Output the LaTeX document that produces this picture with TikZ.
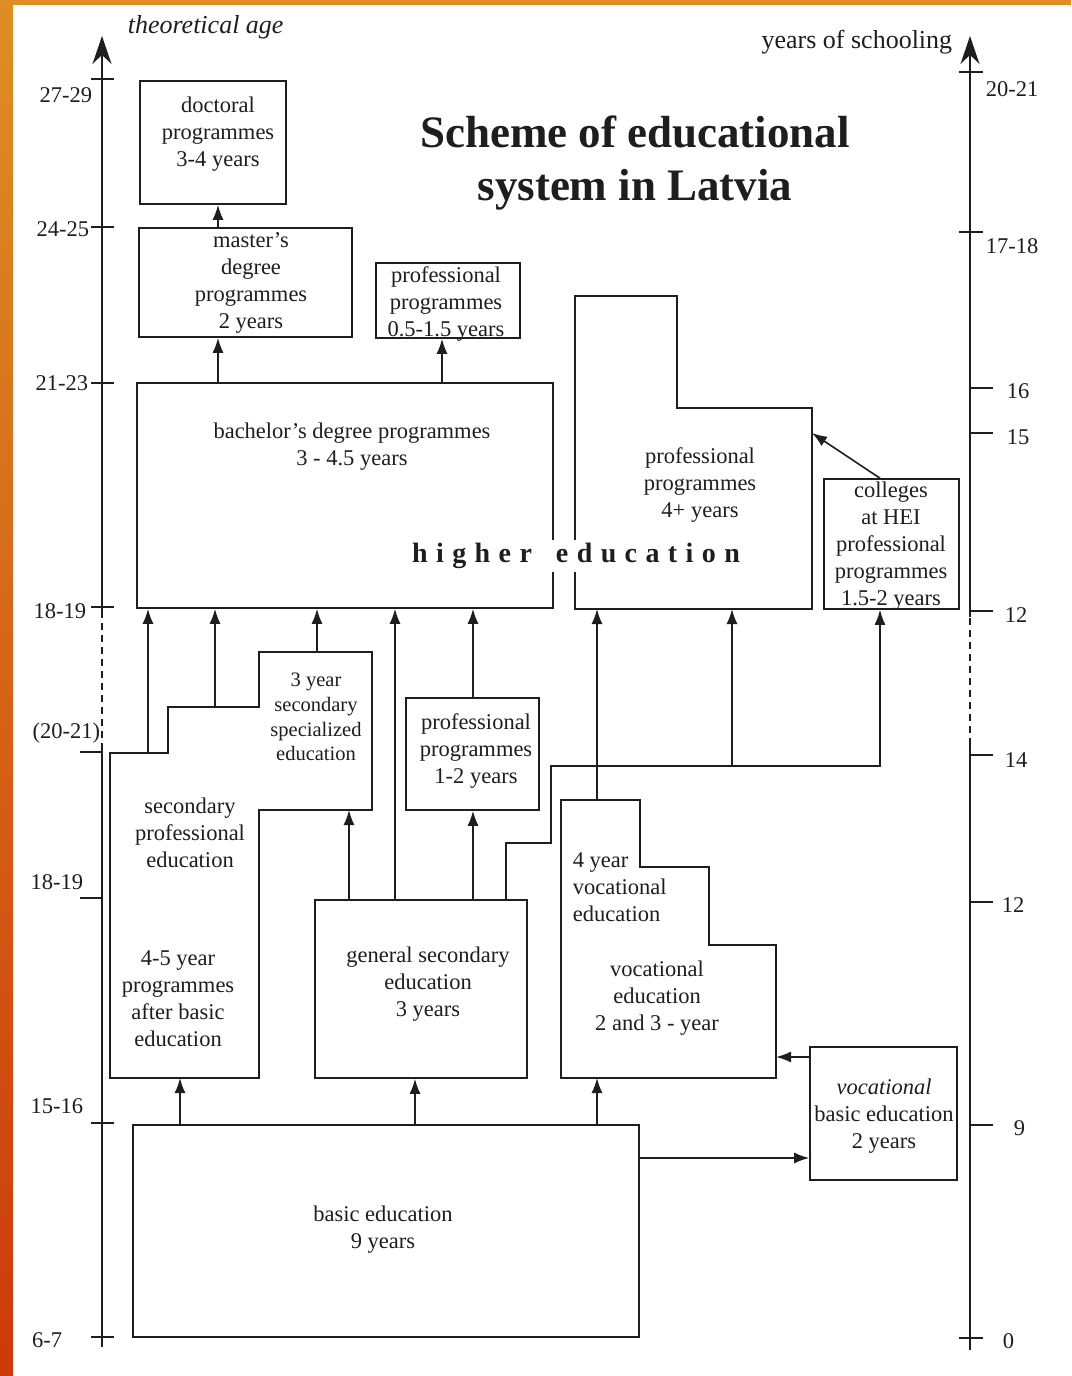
\documentclass[tikz,border=0pt]{standalone}
\usepackage{fontspec}
\setmainfont{Liberation Serif}
\usetikzlibrary{arrows.meta,calc,positioning}

\definecolor{ink}{RGB}{30,30,30}
\definecolor{frametop}{RGB}{222,142,36}
\definecolor{framebot}{RGB}{204,58,10}

\begin{document}
\begin{tikzpicture}[
  x=1pt, y=-1pt,
  color=ink,
  line width=1.6pt,
  every node/.style={font=\fontsize{22.5}{27}\selectfont},
  box/.style={draw, rectangle, inner sep=0pt},
  txt/.style={align=center, inner sep=0pt},
  arr/.style={-{Latex[length=15pt,width=11pt]}},
  axis/.style={-{Stealth[length=28pt,width=19pt]}},
  axlab/.style={font=\fontsize{26}{30}\selectfont},
  agelab/.style={font=\fontsize{26}{30}\selectfont\itshape},
  gap/.style={dash pattern=on 7pt off 5pt}]

% --- page frame ---
\fill[white] (0,0) rectangle (1071,1376);
\shade[top color=frametop, bottom color=framebot] (0,0) rectangle (13,1376);
\fill[frametop] (0,0) rectangle (1071,5);
\useasboundingbox (0,0) rectangle (1071,1376);

% --- age axis (left) ---
\draw (102,1347) -- (102,750);
\draw[gap] (102,750) -- (102,612);
\draw[axis] (102,612) -- (102,36);
\foreach \ty in {79,227,383,607,1123,1337}
  \draw (91,\ty) -- (114,\ty);
\foreach \ty in {752,898}
  \draw (80,\ty) -- (102,\ty);
\foreach \lab/\lx/\ly [count=\i] in {27-29/93/95, 24-25/90/229, 21-23/89/383,
    18-19/87/611, {(20-21)}/101/733, 18-19/84/882, 15-16/84/1106, 6-7/63/1340}
  \node[anchor=east, inner sep=0pt] (age\i) at (\lx,\ly) {\lab};
\node[agelab, anchor=west, inner sep=0pt] (agetitle) at (127,27) {theoretical age};

% --- schooling axis (right) ---
\draw (970,1350) -- (970,745);
\draw[gap] (970,745) -- (970,617);
\draw[axis] (970,617) -- (970,36);
\foreach \ty in {72,232,1338}
  \draw (959,\ty) -- (983,\ty);
\foreach \ty in {388,433,611,755,902,1125}
  \draw (970,\ty) -- (993,\ty);
\foreach \lab/\lx/\ly [count=\i] in {20-21/985/89, 17-18/985/246, 16/1006/391,
    15/1006/437, 12/1004/615, 14/1004/760, 12/1001/905, 9/1013/1128, 0/1002/1341}
  \node[anchor=west, inner sep=0pt] (yrs\i) at (\lx,\ly) {\lab};
\node[axlab, anchor=east, inner sep=0pt] (yrstitle) at (953,42) {years of schooling};

% --- title ---
\node[align=center, font=\fontsize{45}{53}\selectfont\bfseries] (title) at (635,163)
  {Scheme of educational\\system in Latvia};

% --- higher education ---
\node[box, minimum width=146, minimum height=123] (doc)  at (213,142.5) {};
\node[box, minimum width=213, minimum height=109] (mast) at (245.5,282.5) {};
\node[box, minimum width=144, minimum height=75]  (pp1)  at (448,300.5) {};
\node[box, minimum width=416, minimum height=225] (bach) at (345,495.5) {};
\node[box, minimum width=135, minimum height=130] (coll) at (891.5,544) {};
\draw (575,609) coordinate (prfBL) -- (575,296) -- (677,296) -- (677,408)
  -- (812,408) -- (812,609) -- cycle;
\coordinate (prfR) at (812,433);

\node[txt] (doctxt)  at (218,134)   {doctoral\\programmes\\3-4 years};
\node[txt] (masttxt) at (251,283)   {master’s\\degree\\programmes\\2 years};
\node[txt] (pp1txt)  at (446,304)   {professional\\programmes\\0.5-1.5 years};
\node[txt] (bachtxt) at (352,447)   {bachelor’s degree programmes\\3 - 4.5 years};
\node[txt] (prftxt)  at (700,485)   {professional\\programmes\\4+ years};
\node[txt] (colltxt) at (891,546.5) {colleges\\at HEI\\professional\\programmes\\1.5-2 years};
\node[fill=white, inner sep=3pt,
  font=\fontsize{28}{30}\selectfont\bfseries\addfontfeature{LetterSpace=30}]
  (hied) at (576,556) {higher\hspace{24pt}education};

% --- secondary education ---
\draw (110,1078) coordinate (speBL) -- (110,753) coordinate (speS1) -- (168,753)
  -- (168,707) coordinate (speS2) -- (259,707) -- (259,652) coordinate (speTop)
  -- (372,652) -- (372,810) coordinate (speMid) -- (259,810) -- (259,1078) -- cycle;
\draw (561,1078) coordinate (vocBL) -- (561,800) coordinate (vocTop) -- (640,800)
  -- (640,867) -- (709,867) -- (709,945) -- (776,945) coordinate (vocR)
  -- (776,1078) -- cycle;
\node[box, minimum width=212, minimum height=178] (gs)  at (421,989) {};
\node[box, minimum width=133, minimum height=112] (pp2) at (472.5,754) {};

\node[txt, font=\fontsize{20.5}{24.7}\selectfont] (spsctxt) at (316,717)
  {3 year\\secondary\\specialized\\education};
\node[txt] (spetxt) at (190,833)  {secondary\\professional\\education};
\node[txt] (s45txt) at (178,999)  {4-5 year\\programmes\\after basic\\education};
\node[txt] (gstxt)  at (428,984)  {general secondary\\education\\3 years};
\node[txt] (pp2txt) at (476,751)  {professional\\programmes\\1-2 years};
\node[txt, align=left, anchor=west] (v4txt) at (572,887) {4 year\\vocational\\education};
\node[txt] (vtxt)   at (657,998)  {vocational\\education\\2 and 3 - year};

% --- basic education ---
\node[box, minimum width=506, minimum height=212] (bas) at (386,1231) {};
\node[box, minimum width=147, minimum height=133] (vb)  at (883.5,1113.5) {};
\node[txt] (bastxt) at (383,1230)  {basic education\\9 years};
\node[txt] (vbtxt)  at (884,1116)  {\textit{vocational}\\basic education\\2 years};

% --- connectors ---
\foreach \n/\cx in {Doc/218, Pp1/442, Sp1/148, Sp2/215, Sp3/317, Gs1/349, Gs2/395,
    Pp2/473, Gs3/506, Vo1/597, Vo2/732, Col/880, Ba1/180, Ba2/415}
  \coordinate (k\n) at (\cx,0);
\coordinate (kBa3) at (0,1158);
\coordinate (kVb)  at (0,1057);
\coordinate (jogA) at (551,843);
\coordinate (jogB) at (551,766);

\draw[arr] (mast.north -| kDoc) -- (doc.south -| kDoc);
\draw[arr] (bach.north -| kDoc) -- (mast.south -| kDoc);
\draw[arr] (bach.north -| kPp1) -- (pp1.south -| kPp1);
\draw[arr] (kSp1 |- speS1) -- (bach.south -| kSp1);
\draw[arr] (kSp2 |- speS2) -- (bach.south -| kSp2);
\draw[arr] (kSp3 |- speTop) -- (bach.south -| kSp3);
\draw[arr] (gs.north -| kGs1) -- (kGs1 |- speMid);
\draw[arr] (gs.north -| kGs2) -- (bach.south -| kGs2);
\draw[arr] (gs.north -| kPp2) -- (pp2.south -| kPp2);
\draw[arr] (pp2.north -| kPp2) -- (bach.south -| kPp2);
\draw[arr] (gs.north -| kGs3) |- (jogA) -- (jogB) -| (coll.south -| kCol);
\draw[arr] (jogB -| kVo2) -- (kVo2 |- prfBL);
\draw[arr] (kVo1 |- vocTop) -- (kVo1 |- prfBL);
\draw[arr] (coll.north -| kCol) -- (prfR);
\draw[arr] (bas.north -| kBa1) -- (kBa1 |- speBL);
\draw[arr] (bas.north -| kBa2) -- (gs.south -| kBa2);
\draw[arr] (bas.north -| kVo1) -- (kVo1 |- vocBL);
\draw[arr] (bas.east |- kBa3) -- (vb.west |- kBa3);
\draw[arr] (vb.west |- kVb) -- (vocR |- kVb);

\end{tikzpicture}
\end{document}
